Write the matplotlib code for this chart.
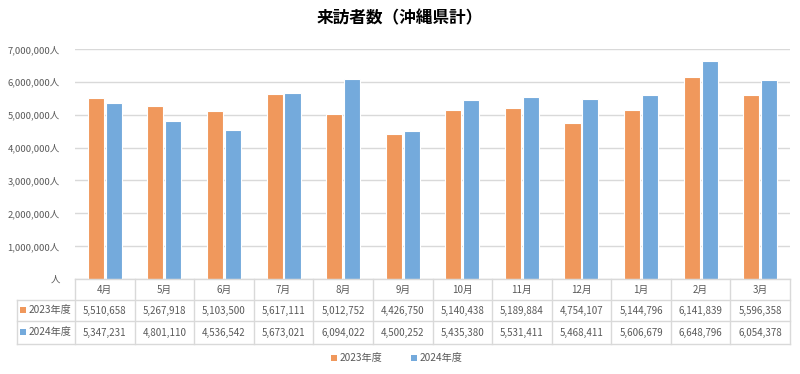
import matplotlib
matplotlib.use("Agg")
import matplotlib.pyplot as plt
from matplotlib.transforms import blended_transform_factory
from matplotlib.lines import Line2D
from matplotlib.patches import Rectangle

plt.rcParams['font.family'] = ['Noto Sans CJK JP', 'DejaVu Sans']

title = "来訪者数（沖縄県計）"
months = ["4月", "5月", "6月", "7月", "8月", "9月", "10月", "11月", "12月", "1月", "2月", "3月"]
series_names = ["2023年度", "2024年度"]
v2023 = [5510658, 5267918, 5103500, 5617111, 5012752, 4426750, 5140438, 5189884, 4754107, 5144796, 6141839, 5596358]
v2024 = [5347231, 4801110, 4536542, 5673021, 6094022, 4500252, 5435380, 5531411, 5468411, 5606679, 6648796, 6054378]
yticks = [0, 1000000, 2000000, 3000000, 4000000, 5000000, 6000000, 7000000]

colors = ["#F0985C", "#74AADC"]
txt = "#595959"
gridc = "#D9D9D9"

W, H = 800, 374
fig = plt.figure(figsize=(8, 3.74), dpi=100)
x0, x1 = 75, 790
ytop, ybot = 49, 279
ax = fig.add_axes([x0 / W, 1 - ybot / H, (x1 - x0) / W, (ybot - ytop) / H])

n = len(months)
xs = list(range(n))
bw = 0.27
ax.bar([x - 0.15 for x in xs], v2023, width=bw, color=colors[0], edgecolor="white", linewidth=0.8, zorder=3)
ax.bar([x + 0.15 for x in xs], v2024, width=bw, color=colors[1], edgecolor="white", linewidth=0.8, zorder=3)

ax.set_xlim(-0.5, n - 0.5)
ax.set_ylim(0, 7000000)
ax.set_yticks(yticks)
ax.set_yticklabels([("{:,}".format(v) if v else "") + "人" for v in yticks], color=txt, fontsize=6.8)
ax.tick_params(axis="y", length=0, pad=11)
ax.set_xticks([])
ax.grid(axis="y", color=gridc, linewidth=1, zorder=0)
for s in ax.spines.values():
    s.set_visible(False)

fig.text(0.5, 1 - 18 / H, title, ha="center", va="center", fontsize=12, fontweight="bold", color="#000000")

# table
tr = blended_transform_factory(ax.transData, fig.transFigure)
ff = fig.transFigure
def fy(p):
    return 1 - p / H
rows_y = [279, 300, 321, 344]
lw = 1.0
lc = "#D9D9D9"
fig.add_artist(Line2D([x0 / W, x1 / W], [fy(279), fy(279)], transform=ff, color=lc, lw=lw))
for yy in rows_y[1:]:
    fig.add_artist(Line2D([17 / W, x1 / W], [fy(yy), fy(yy)], transform=ff, color=lc, lw=lw))
for b in range(n + 1):
    fig.add_artist(Line2D([b - 0.5, b - 0.5], [fy(279), fy(344)], transform=tr, color=lc, lw=lw))
fig.add_artist(Line2D([17 / W, 17 / W], [fy(300), fy(344)], transform=ff, color=lc, lw=lw))

for i, m in enumerate(months):
    fig.text(i, fy(290), m, transform=tr, ha="center", va="center", fontsize=7, color=txt)
    fig.text(i, fy(310.5), "{:,}".format(v2023[i]), transform=tr, ha="center", va="center", fontsize=7, color=txt)
    fig.text(i, fy(332.5), "{:,}".format(v2024[i]), transform=tr, ha="center", va="center", fontsize=7, color=txt)

for k, (name, yy) in enumerate(zip(series_names, [310.5, 332.5])):
    fig.add_artist(Rectangle((20 / W, fy(yy) - 2.5 / H), 6 / W, 6 / H, transform=ff, color=colors[k], lw=0))
    fig.text(29 / W, fy(yy), name, ha="left", va="center", fontsize=7.3, color=txt)

for k, (name, lx) in enumerate(zip(series_names, [331, 411])):
    fig.add_artist(Rectangle((lx / W, fy(358) - 3 / H), 6 / W, 6 / H, transform=ff, color=colors[k], lw=0))
    fig.text((lx + 9) / W, fy(358), name, ha="left", va="center", fontsize=7.3, color=txt)

fig.savefig("out.png", dpi=100)
